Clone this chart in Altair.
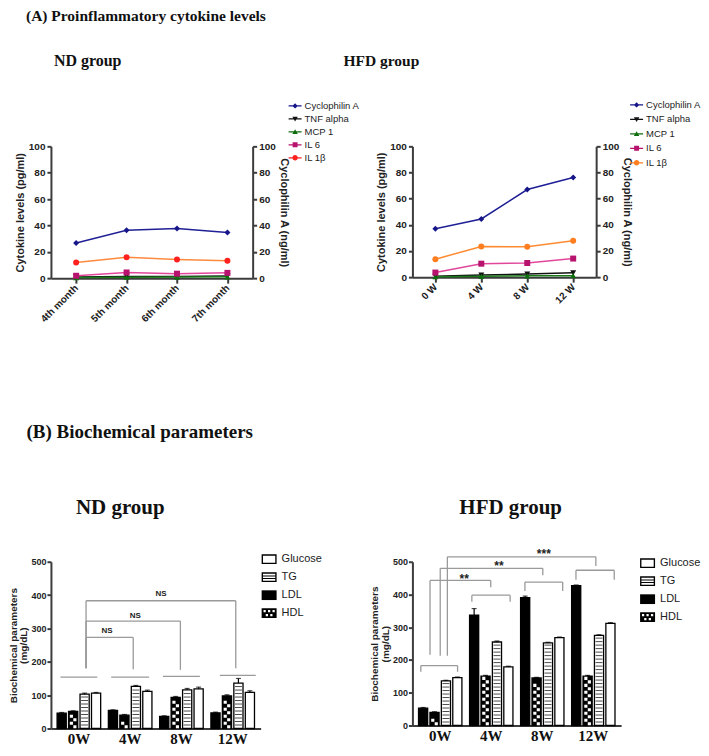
import altair as alt
import pandas as pd

# ---------------- data ----------------
series = ["Cyclophilin A", "TNF alpha", "MCP 1", "IL 6", "IL 1β"]

nd_times = ["4th month", "5th month", "6th month", "7th month"]
nd_cyclophilin = [26.6, 36.3, 37.6, 34.6]
nd_tnf = [0.9, 1.3, 1.3, 1.6]
nd_mcp1 = [0.4, 0.7, 0.8, 1.0]
nd_il6 = [1.8, 4.3, 3.4, 4.0]
nd_il1b = [11.8, 15.9, 14.2, 13.2]

hfd_times = ["0 W", "4 W", "8 W", "12 W"]
hfd_cyclophilin = [37.0, 44.5, 67.0, 76.2]
hfd_tnf = [0.6, 1.6, 2.4, 3.3]
hfd_mcp1 = [0.3, 0.6, 1.0, 1.1]
hfd_il6 = [3.5, 10.3, 10.8, 14.2]
hfd_il1b = [13.7, 23.5, 23.2, 27.9]

groups = ["0W", "4W", "8W", "12W"]
params = ["LDL", "HDL", "TG", "Glucose"]
legend_order = ["Glucose", "TG", "LDL", "HDL"]

nd_ldl = [46, 54, 36, 47]
nd_hdl = [51, 40, 93, 98]
nd_tg = [103, 126, 116, 136]
nd_glucose = [106, 111, 119, 108]
nd_ldl_err = [2, 2, 2, 2]
nd_hdl_err = [2, 2, 3, 3]
nd_tg_err = [3, 3, 4, 14]
nd_glucose_err = [2, 4, 5, 5]

hfd_ldl = [53, 337, 390, 427]
hfd_hdl = [40, 151, 145, 151]
hfd_tg = [136, 255, 252, 275]
hfd_glucose = [146, 179, 268, 312]
hfd_ldl_err = [2, 20, 5, 2]
hfd_hdl_err = [2, 2, 2, 2]
hfd_tg_err = [2, 3, 2, 2]
hfd_glucose_err = [2, 2, 2, 2]

# brackets: x in group units (0 = centre of 0W group), y in mg/dL
nd_cap_x1 = [-0.36, 0.63, 1.64, 2.75]
nd_cap_x2 = [0.36, 1.37, 2.36, 3.45]
nd_cap_y = [154, 154, 156, 159]
nd_cap_end = [154, 154, 156, 159]
nd_sig_x1 = [0.14, 0.14, 0.14]
nd_sig_x2 = [1.06, 1.98, 3.06]
nd_sig_base = [181, 181, 181]
nd_sig_top = [273, 322, 383]
nd_sig_end = [178, 176, 181]
nd_sig_text = ["NS", "NS", "NS"]
nd_sig_text_x = [0.55, 1.10, 1.60]
nd_sig_text_y = [293, 336, 404]

hfd_cap_x1 = [-0.38, 0.62, 1.66, 2.66]
hfd_cap_x2 = [0.34, 1.37, 2.40, 3.41]
hfd_cap_y = [183, 398, 438, 474]
hfd_cap_end = [164, 378, 411, 445]
hfd_sig_x1 = [-0.20, 0.0, 0.14]
hfd_sig_x2 = [0.99, 2.01, 3.05]
hfd_sig_base = [216, 213, 213]
hfd_sig_top = [443, 480, 515]
hfd_sig_end = [422, 459, 487]
hfd_sig_text = ["**", "**", "***"]
hfd_sig_text_x = [0.47, 1.15, 2.03]
hfd_sig_text_y = [446, 486, 523]

# ---------------- styling ----------------
SANS = "Liberation Sans"
SERIF = "Liberation Serif"
INK = "#222222"
AXC = "#3c3c3c"
INDENT = "\u200b" + "\u00a0" * 7   # keeps the sub-heading indented under "(A)"

nd_line_colors = ["#1f1f96", "#111111", "#1a7a1a", "#e2479c", "#ff8a3d"]
nd_point_colors = ["#16168a", "#111111", "#0e6e0e", "#b8126f", "#ff2020"]
hfd_line_colors = ["#1f1f96", "#111111", "#1a7a1a", "#e2479c", "#ff8a30"]
hfd_point_colors = ["#16168a", "#111111", "#0e6e0e", "#b8126f", "#ff7f20"]

SHAPES = ["diamond", "triangle-down", "triangle-up", "square", "circle"]
LINE_BAR = "M-1,-0.09H1V0.09H-1Z"
LEGEND_PATHS = [
    LINE_BAR + " M0,-0.42L0.42,0L0,0.42L-0.42,0Z",
    LINE_BAR + " M-0.42,-0.32L0.42,-0.32L0,0.42Z",
    LINE_BAR + " M0,-0.42L0.42,0.32L-0.42,0.32Z",
    LINE_BAR + " M-0.38,-0.38H0.38V0.38H-0.38Z",
    LINE_BAR + " M-0.42,0A0.42,0.42,0,1,1,0.42,0A0.42,0.42,0,1,1,-0.42,0Z",
]

OUT = "M-1,-0.65H1V0.65H-1Z"
HOLE = " M-0.82,-0.47V0.47H0.82V-0.47Z"


def hole(x, y, s=0.3):
    return f" M{x},{y}V{y + s:.2f}H{x + s:.2f}V{y}Z"


BAR_LEGEND_PATHS = [
    OUT + HOLE,
    OUT + HOLE + " M-0.82,-0.24H0.82V-0.1H-0.82Z M-0.82,0.1H0.82V0.24H-0.82Z",
    OUT,
    OUT + hole(-0.75, -0.42) + hole(-0.15, -0.42) + hole(0.45, -0.42)
    + hole(-0.45, 0.12) + hole(0.15, 0.12),
]
CHECKER = "M-0.95,-0.95H-0.05V-0.05H-0.95Z M0.05,0.05H0.95V0.95H0.05Z"


def ax(**kw):
    d = dict(grid=False, domainColor=AXC, domainWidth=2, tickColor=AXC, tickWidth=2,
             tickSize=4, labelFont=SANS, labelFontWeight="bold", labelFontSize=10,
             labelColor=INK, titleFont=SANS, titleFontWeight="bold", titleFontSize=11,
             titleColor=INK, labelOverlap=False)
    d.update(kw)
    return alt.Axis(**d)


def line_panel(times, values, width, height, line_colors, point_colors, title_params,
               leg_x, leg_y, leg_pad, extra_axis=None):
    rows = []
    for s, vals in zip(series, values):
        for i, (t, v) in enumerate(zip(times, vals)):
            rows.append({"time": t, "idx": i, "series": s, "value": v})
    df = pd.DataFrame(rows)
    base = alt.Chart(df)
    xkw = dict(title=None, labelAngle=315, labelAlign="right", labelBaseline="middle",
               tickSize=5, labelPadding=3)
    if extra_axis:
        xkw.update(extra_axis)
    x = alt.X("time:N", sort=times, scale=alt.Scale(type="point", padding=0.5), axis=ax(**xkw))
    ticks = [0, 20, 40, 60, 80, 100]
    y = alt.Y("value:Q", scale=alt.Scale(domain=[0, 100], nice=False),
              axis=ax(title="Cytokine levels (pg/ml)", values=ticks, titlePadding=3, labelPadding=2))
    lines = base.mark_line(strokeWidth=1.5).encode(
        x=x, y=y, order="idx:Q",
        stroke=alt.Stroke("series:N", scale=alt.Scale(domain=series, range=line_colors), legend=None))
    points = base.mark_point(filled=True, opacity=1, size=36).encode(
        x=x, y=y,
        fill=alt.Fill("series:N", scale=alt.Scale(domain=series, range=point_colors), legend=None),
        shape=alt.Shape("series:N", scale=alt.Scale(domain=series, range=SHAPES), legend=None))
    leg = alt.Legend(title=None, orient="none", legendX=leg_x, legendY=leg_y, symbolSize=169,
                     symbolStrokeWidth=0, symbolOpacity=1, labelFont=SANS, labelFontSize=9.5,
                     labelColor=INK, rowPadding=leg_pad, padding=0, labelOffset=3)
    legend_layer = base.mark_point(filled=True, opacity=0).encode(
        fill=alt.Fill("series:N", scale=alt.Scale(domain=series, range=point_colors), legend=leg),
        shape=alt.Shape("series:N", scale=alt.Scale(domain=series, range=LEGEND_PATHS), legend=leg))
    inner = alt.layer(lines, points, legend_layer).resolve_scale(shape="independent", fill="independent")
    right = base.transform_filter(alt.datum.series == "Cyclophilin A").mark_point(opacity=0).encode(
        y=alt.Y("value:Q", scale=alt.Scale(domain=[0, 100], nice=False),
                axis=ax(orient="right", title="Cyclophilin A (ng/ml)", values=ticks,
                        titlePadding=3, labelPadding=2)))
    return alt.layer(inner, right).resolve_scale(y="independent").properties(
        width=width, height=height, title=title_params)


def bar_panel(vals, errs, width, height, caps, sig, leg_x, leg_y, title, title_dx, title_offset,
              sig_size):
    rows = []
    for p, v, e in zip(params, vals, errs):
        for g, vv, ee in zip(groups, v, e):
            rows.append({"group": g, "param": p, "value": vv, "hi": vv + ee})
    df = pd.DataFrame(rows)
    PI, PO = 0.15, 0.12
    xs = alt.Scale(domain=groups, paddingInner=PI, paddingOuter=PO)
    xax = ax(title=None, labelFont=SERIF, labelFontSize=15, labelColor="#111111",
             ticks=False, labelPadding=3, labelAngle=0)
    x_axis = alt.X("group:N", scale=xs, sort=groups, axis=xax)
    xo = alt.XOffset("param:N", scale=alt.Scale(domain=params, paddingInner=0.2, paddingOuter=0.0))
    ys = alt.Scale(domain=[0, 500], nice=False)
    yax = ax(title=["Biochemical parameters", "(mg/dL)"], values=[0, 100, 200, 300, 400, 500],
             titleFontSize=10, titleLineHeight=10.5, titlePadding=2, labelFontSize=9, labelPadding=1)

    def yenc(field):
        return alt.Y(f"{field}:Q", scale=ys, axis=yax)

    base = alt.Chart(df)
    unit = 500.0 / height
    bars = base.mark_bar(stroke="black", strokeWidth=1.3).encode(
        x=x_axis, xOffset=xo, y=yenc("value"),
        fill=alt.Fill("param:N", scale=alt.Scale(domain=params, range=["black", "black", "white", "white"]),
                      legend=None))
    st = round(3.5 * unit, 3)
    stripes = base.transform_filter("datum.param == 'TG'").transform_calculate(
        s=f"sequence({st}, datum.value - 1, {st})").transform_flatten(["s"]).mark_tick(
        color="black", thickness=1, size=7).encode(x=x_axis, xOffset=xo, y=yenc("s"))
    tile = round(7 * unit, 3)
    checker = base.transform_filter("datum.param == 'HDL'").transform_calculate(
        s=f"sequence({tile / 2}, datum.value - {tile / 2} + 0.01, {tile})").transform_flatten(["s"]).mark_point(
        shape=CHECKER, filled=True, color="white", size=49, opacity=1, strokeWidth=0).encode(
        x=x_axis, xOffset=xo, y=yenc("s"))
    err = base.mark_rule(color="black", strokeWidth=1.2).encode(
        x=x_axis, xOffset=xo, y=yenc("value"), y2="hi:Q")
    errcap = base.mark_tick(color="black", thickness=1.2, size=5).encode(
        x=x_axis, xOffset=xo, y=yenc("hi"))
    leg = alt.Legend(title=None, orient="none", legendX=leg_x, legendY=leg_y, symbolSize=225,
                     symbolFillColor="black", symbolStrokeWidth=0, symbolOpacity=1,
                     labelFont=SANS, labelFontSize=11, labelColor=INK, rowPadding=5, padding=0,
                     labelOffset=5)
    legend_layer = base.mark_point(filled=True, color="black", opacity=0).encode(
        x=x_axis, xOffset=xo, y=yenc("value"),
        shape=alt.Shape("param:N", scale=alt.Scale(domain=legend_order, range=BAR_LEGEND_PATHS), legend=leg))
    main = alt.layer(bars, stripes, checker, err, errcap, legend_layer)

    # bracket segments
    cx1, cx2, cy, cend = caps
    sx1, sx2, sbase, stop, send, stext, stx, sty = sig
    segs = []
    for a, b, yy, e in zip(cx1, cx2, cy, cend):
        segs.append({"x": a, "x2": b, "y": yy, "y2": yy})
        if e != yy:
            segs.append({"x": a, "x2": a, "y": e, "y2": yy})
            segs.append({"x": b, "x2": b, "y": e, "y2": yy})
    for a, b, lo, top, e in zip(sx1, sx2, sbase, stop, send):
        segs.append({"x": a, "x2": a, "y": lo, "y2": top})
        segs.append({"x": a, "x2": b, "y": top, "y2": top})
        segs.append({"x": b, "x2": b, "y": e, "y2": top})
    seg_df = pd.DataFrame(segs)
    lab_df = pd.DataFrame({"x": stx, "y": sty, "label": stext})
    lo_dom = -(PO + (1 - PI) / 2)
    hi_dom = lo_dom + len(groups) - PI + 2 * PO
    xq = alt.Scale(domain=[lo_dom, hi_dom], nice=False, zero=False)
    brackets = alt.Chart(seg_df).mark_rule(color="#9a9a9a", strokeWidth=1.3).encode(
        x=alt.X("x:Q", scale=xq, axis=None), x2="x2:Q", y=yenc("y"), y2="y2:Q")
    labels = alt.Chart(lab_df).mark_text(font=SANS, fontWeight="bold", fontSize=sig_size,
                                         color=INK, baseline="middle").encode(
        x=alt.X("x:Q", scale=xq, axis=None), y=yenc("y"), text="label:N")
    over = alt.layer(brackets, labels)
    return alt.layer(main, over).resolve_scale(x="independent").properties(
        width=width, height=height,
        title=alt.TitleParams(title, anchor="start", frame="group", dx=title_dx, offset=title_offset,
                              font=SERIF, fontSize=21, fontWeight="bold", color="#111111"))


X0 = 53          # expected left edge of the first column (px from page edge)
COL_GAP = 152
ND_LINE_W, HFD_LINE_W = 202, 184
ND_BAR_W, HFD_BAR_W = 210, 209
HFD_LINE_LEFT = X0 + ND_LINE_W + COL_GAP
HFD_BAR_LEFT = X0 + ND_BAR_W + COL_GAP

nd_title = alt.TitleParams(
    "(A) Proinflammatory cytokine levels", subtitle=INDENT + "ND group",
    anchor="start", frame="group", dx=28 - X0, offset=30,
    font=SERIF, fontSize=15.5, fontWeight="bold", color="#111111",
    subtitleFont=SERIF, subtitleFontSize=16, subtitleFontWeight="bold", subtitleColor="#111111",
    subtitlePadding=29)
hfd_title = alt.TitleParams(
    "HFD group", anchor="start", frame="group", dx=338 - HFD_LINE_LEFT, offset=29,
    font=SERIF, fontSize=15.5, fontWeight="bold", color="#111111")

nd_line = line_panel(nd_times, [nd_cyclophilin, nd_tnf, nd_mcp1, nd_il6, nd_il1b], ND_LINE_W, 132,
                     nd_line_colors, nd_point_colors, nd_title, 238, -47, 2,
                     extra_axis=dict(title="(B) Biochemical parameters", titleX=28 - X0, titleY=154,
                                     titleAlign="left", titleBaseline="middle", titleAngle=0,
                                     titleFont=SERIF, titleFontSize=19, titleColor="#111111"))
hfd_line = line_panel(hfd_times, [hfd_cyclophilin, hfd_tnf, hfd_mcp1, hfd_il6, hfd_il1b], HFD_LINE_W, 131,
                      hfd_line_colors, hfd_point_colors, hfd_title, 218, -48, 3.5)
nd_bar = bar_panel([nd_ldl, nd_hdl, nd_tg, nd_glucose],
                   [nd_ldl_err, nd_hdl_err, nd_tg_err, nd_glucose_err], ND_BAR_W, 167,
                   (nd_cap_x1, nd_cap_x2, nd_cap_y, nd_cap_end),
                   (nd_sig_x1, nd_sig_x2, nd_sig_base, nd_sig_top, nd_sig_end, nd_sig_text,
                    nd_sig_text_x, nd_sig_text_y),
                   264 - X0, -10, "ND group", 78 - X0, 34, 8)
hfd_bar = bar_panel([hfd_ldl, hfd_hdl, hfd_tg, hfd_glucose],
                    [hfd_ldl_err, hfd_hdl_err, hfd_tg_err, hfd_glucose_err], HFD_BAR_W, 164,
                    (hfd_cap_x1, hfd_cap_x2, hfd_cap_y, hfd_cap_end),
                    (hfd_sig_x1, hfd_sig_x2, hfd_sig_base, hfd_sig_top, hfd_sig_end, hfd_sig_text,
                     hfd_sig_text_x, hfd_sig_text_y),
                    643 - HFD_BAR_LEFT, -6, "HFD group", 462 - HFD_BAR_LEFT, 30, 12)

chart = alt.concat(
    nd_line, hfd_line, nd_bar, hfd_bar, columns=2,
    spacing={"row": 284, "column": COL_GAP}, align="none", bounds="flush",
).resolve_scale(
    fill="independent", stroke="independent", shape="independent", xOffset="independent"
).configure(padding={"left": 0, "top": 0, "right": 0, "bottom": 0}, background="white"
            ).configure_view(strokeWidth=0)

chart.save("out.html", embed_options={"renderer": "svg", "actions": False})
